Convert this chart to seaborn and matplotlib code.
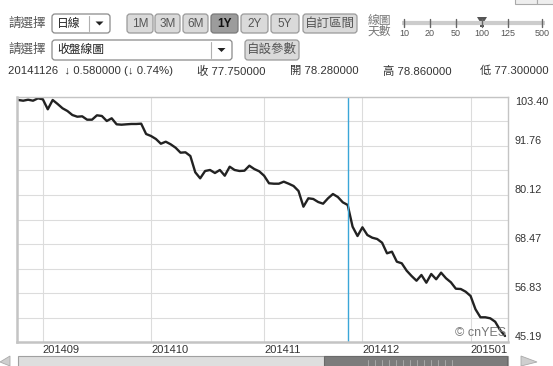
import matplotlib
matplotlib.use("Agg")
import matplotlib.pyplot as plt
import seaborn as sns
import numpy as np
import pandas as pd
from matplotlib.patches import FancyBboxPatch, Rectangle, Polygon

# ---------------- data ----------------
close_values = [
    102.69, 102.52, 102.76, 102.52, 103.09, 102.85, 100.48, 102.69, 101.74, 100.72,
    100.07, 99.12, 98.72, 98.81, 98.01, 98.01, 99.05, 98.89, 97.70, 98.34,
    96.91, 96.82, 96.91, 96.99, 96.99, 97.06, 94.61, 94.13, 93.42, 92.30,
    92.78, 92.16, 91.35, 90.17, 90.26, 89.38, 85.51, 84.08, 85.82, 86.06,
    85.34, 86.06, 84.70, 86.84, 86.06, 85.82, 85.89, 87.08, 86.29, 85.75,
    84.70, 82.90, 82.80, 82.80, 83.28, 82.80, 82.25, 81.07, 77.34, 79.33,
    79.17, 78.45, 78.05, 79.33, 80.35, 79.64, 78.38, 77.75, 72.58, 70.37,
    72.44, 70.61, 69.97, 69.66, 68.78, 66.26, 66.65, 64.27, 63.89, 62.13,
    60.87, 59.75, 61.11, 59.28, 61.35, 60.09, 61.66, 60.33, 59.37, 57.85,
    57.78, 57.14, 56.12, 52.96, 51.06, 51.06, 50.82, 50.01, 48.04, 46.62,
]
holidays = ["2014-12-25", "2015-01-01"]
trade_dates = [d for d in pd.bdate_range("2014-08-25", "2015-01-13")
               if d.strftime("%Y-%m-%d") not in holidays]
cursor_date = "2014-11-26"

y_tick_values = [45.19, 56.83, 68.47, 80.12, 91.76, 103.40]
y_tick_labels = ["45.19", "56.83", "68.47", "80.12", "91.76", "103.40"]

range_buttons = ["1M", "3M", "6M", "1Y", "2Y", "5Y", "自訂區間"]
active_button = "1Y"
slider_labels = ["10", "20", "50", "100", "125", "500"]
slider_active = "100"

info_line = "20141126  ↓ 0.580000 (↓ 0.74%)"
info_fields = ["收 77.750000", "開 78.280000", "高 78.860000", "低 77.300000"]

# ---------------- style ----------------
sns.set_theme(style="white")
plt.rcParams["font.family"] = ["Liberation Sans", "Noto Sans CJK TC", "DejaVu Sans"]

W, H = 553, 366
fig = plt.figure(figsize=(W / 100, H / 100), dpi=100)
fig.patch.set_facecolor("white")

# UI overlay in pixel coordinates
ui = fig.add_axes([0, 0, 1, 1], zorder=0)
ui.set_xlim(0, W)
ui.set_ylim(H, 0)
ui.axis("off")

txt = "#333333"

def box(x0, y0, x1, y1, fc, ec="#8a8a8a", r=3, lw=0.9):
    ui.add_patch(FancyBboxPatch((x0, y0), x1 - x0, y1 - y0,
                                boxstyle=f"round,pad=0,rounding_size={r}",
                                fc=fc, ec=ec, lw=lw))

def dropdown(x0, y0, x1, y1, label):
    box(x0, y0, x1, y1, "white", "#8a8a8a")
    ui.text(x0 + 5, (y0 + y1) / 2, label, fontsize=8.5, va="center", color="#222")
    sep = x1 - 21
    ui.plot([sep, sep], [y0 + 2, y1 - 2], color="#b0b0b0", lw=0.8)
    cx = (sep + x1) / 2
    cy = (y0 + y1) / 2
    ui.add_patch(Polygon([(cx - 4, cy - 2), (cx + 4, cy - 2), (cx, cy + 2)],
                         closed=True, fc="#222", ec="none"))

# row 1
ui.text(8, 24, "請選擇", fontsize=9, va="center", color="#555")
dropdown(52, 14, 110, 33, "日線")
btn_x = [(127, 153), (155, 180), (183, 208), (211, 238), (241, 268), (271, 299), (303, 357)]
for lab, (x0, x1) in zip(range_buttons, btn_x):
    act = lab == active_button
    box(x0, 14, x1, 33, "#9c9c9c" if act else "#dadada", "#7a7a7a" if act else "#9a9a9a")
    ui.text((x0 + x1) / 2, 24, lab, fontsize=8.5 if len(lab) < 3 else 9,
            ha="center", va="center",
            color="#111" if act else "#555", fontweight="bold" if act else "normal")

# slider
ui.text(368, 21, "線圖", fontsize=8.5, va="center", color="#777")
ui.text(368, 32, "天數", fontsize=8.5, va="center", color="#777")
slider_x = [404, 430, 456, 482, 508, 542]
ui.plot([402, 545], [23, 23], color="#cccccc", lw=3, solid_capstyle="butt")
for lab, sx in zip(slider_labels, slider_x):
    ui.plot([sx, sx], [19, 27], color="#666", lw=1)
    ui.text(sx, 33, lab, fontsize=6.5, ha="center", va="center", color="#555")
    if lab == slider_active:
        ui.add_patch(Polygon([(sx - 5, 17), (sx + 5, 17), (sx + 2, 22), (sx + 2, 27),
                              (sx - 2, 27), (sx - 2, 22)], closed=True, fc="#555", ec="none"))
ui.add_patch(Rectangle((515, -2), 22, 6, fc="#eeeeee", ec="#aaaaaa", lw=0.8))
ui.add_patch(Rectangle((537, -2), 20, 6, fc="#eeeeee", ec="#aaaaaa", lw=0.8))

# row 2
ui.text(8, 50, "請選擇", fontsize=9, va="center", color="#555")
dropdown(52, 40, 232, 60, "收盤線圖")
box(245, 40, 299, 60, "#dadada", "#9a9a9a")
ui.text(272, 50, "自設參數", fontsize=9, ha="center", va="center", color="#555")

# row 3
ui.text(8, 71, info_line, fontsize=8.2, va="center", color=txt)
for lab, fx in zip(info_fields, [197, 290, 383, 480]):
    ui.text(fx, 71, lab, fontsize=8.2, va="center", color=txt)

# scrollbar
ui.add_patch(Rectangle((18, 356), 490, 12, fc="#dedede", ec="#a0a0a0", lw=0.8))
ui.add_patch(Rectangle((324, 356), 183, 12, fc="#7c7c7c", ec="#6a6a6a", lw=0.8))
for sx in np.arange(368, 456, 7):
    ui.plot([sx, sx], [360, 366], color="#a8a8a8", lw=0.7)
ui.add_patch(Polygon([(0, 362), (10, 356), (10, 366)], closed=True, fc="#cfcfcf", ec="#aaaaaa", lw=0.6))
ui.add_patch(Polygon([(537, 362), (521, 356), (521, 366)], closed=True, fc="#cfcfcf", ec="#aaaaaa", lw=0.6))

# ---------------- chart ----------------
left, right, top, bottom = 17, 508, 97, 342
ax = fig.add_axes([left / W, (H - bottom) / H, (right - left) / W, (bottom - top) / H], zorder=1)
ax.set_facecolor("white")

df = pd.DataFrame({"idx": np.arange(len(close_values)), "date": trade_dates, "close": close_values})
sns.lineplot(data=df, x="idx", y="close", ax=ax, color="#222222", lw=1.7)

ax.set_xlim(-0.26, len(close_values) - 1 + 0.61)
ax.set_ylim(y_tick_values[0], y_tick_values[-1])

months = df["date"].dt.strftime("%Y%m")
month_start = df.index[(months != months.shift(1))][1:]
ax.set_xticks(month_start)
ax.set_xticklabels([months[i] for i in month_start])
for lab in ax.get_xticklabels():
    lab.set_ha("left")

ax.yaxis.tick_right()
ax.set_yticks(y_tick_values)
ax.set_yticklabels(y_tick_labels)
mids = [(a + b) / 2 for a, b in zip(y_tick_values[:-1], y_tick_values[1:])]
ax.set_yticks(mids, minor=True)
labs = ax.get_yticklabels()
for i, lab in enumerate(labs):
    lab.set_va("top" if i == len(labs) - 1 else "bottom")

ax.tick_params(axis="both", which="both", length=0, labelsize=7.8, colors="#333333")
ax.tick_params(axis="y", pad=5)
ax.tick_params(axis="x", pad=2, labelsize=8)
ax.grid(True, which="both", axis="y", color="#dcdcdc", lw=0.8)
ax.grid(True, which="major", axis="x", color="#dcdcdc", lw=0.8)
ax.set_axisbelow(True)
ax.set_xlabel("")
ax.set_ylabel("")

cursor_idx = df.index[df["date"] == pd.Timestamp(cursor_date)][0]
ax.axvline(cursor_idx, color="#3aa6d8", lw=1.0)

for s in ax.spines.values():
    s.set_color("#c4c4c4")
    s.set_linewidth(1.0)
ax.spines["left"].set_linewidth(1.8)
ax.spines["bottom"].set_linewidth(1.8)

ax.text(0.997, 0.037, "© cnYES", transform=ax.transAxes, ha="right", va="center",
        fontsize=9, color="#777777")

fig.savefig("out.png", dpi=100)
